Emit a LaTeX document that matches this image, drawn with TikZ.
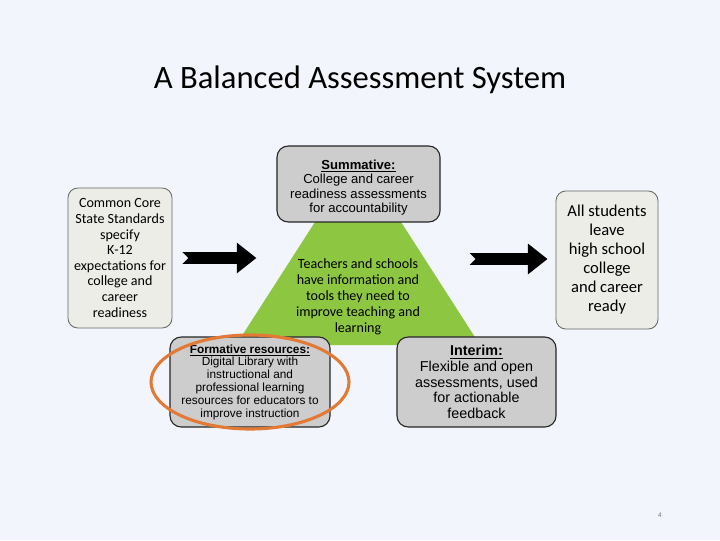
\documentclass[tikz,border=0pt]{standalone}
\usepackage{fontspec}
\setmainfont{Carlito}
\newfontfamily\arialfont{Liberation Sans}
\usetikzlibrary{positioning, calc, arrows.meta}

\definecolor{slidebg}{HTML}{F2F6FC}
\definecolor{pyramidgreen}{HTML}{8DC641}
\definecolor{boxgray}{HTML}{CDCDCD}
\definecolor{paleboxfill}{HTML}{EDEDE8}
\definecolor{ringorange}{HTML}{E27A36}

\begin{document}
\begin{tikzpicture}[x=0.025cm, y=-0.025cm,
    outerbox/.style={rectangle, rounded corners=7pt, draw=black!60, fill=paleboxfill, line width=0.6pt, align=center, inner sep=0pt},
    greybox/.style={rectangle, rounded corners=8pt, draw=black!85, fill=boxgray, line width=0.8pt, align=center, inner sep=0pt},
    bigarrow/.style={line width=8.5pt, {Triangle Cap[reversed]}-{Triangle[length=14pt, width=21pt]}}
]
    % Background
    \fill[slidebg] (0,0) rectangle (720,540);
    \useasboundingbox (0,0) rectangle (720,540);

    % Title
    \node[font=\fontsize{23.2}{27}\selectfont] (title) at (360,80) {A Balanced Assessment System};

    % Pyramid
    \fill[pyramidgreen] (358,155) -- (480,345) -- (236,345) -- cycle;
    \node[align=center, font=\fontsize{10}{11.3}\selectfont] (core) at (358,297)
        {Teachers and schools\\ have information and\\ tools they need to\\ improve teaching and\\ learning};

    % Outer boxes
    \node[outerbox, minimum width=2.6cm, minimum height=3.5cm, font=\fontsize{10}{11.1}\selectfont] (ccss) at (120,258)
        {Common Core\\ State Standards\\ specify\\ K-12\\ expectations for\\ college and\\ career\\ readiness};
    \node[outerbox, minimum width=2.55cm, minimum height=3.45cm, font=\fontsize{11.8}{13.5}\selectfont] (ready) at (607,260)
        {All students\\ leave\\ high school\\ college\\ and career\\ ready};

    % Assessment boxes
    \node[greybox, minimum width=4.075cm, minimum height=1.9cm, font=\arialfont\fontsize{9.3}{10.2}\selectfont] (summ) at (358.5,184)
        {\rule{0pt}{12pt}\underline{\textbf{Summative:}}\\ College and career\\ readiness assessments\\ for accountability};
    \node[greybox, minimum width=4cm, minimum height=2.25cm, font=\arialfont\fontsize{8.4}{9.1}\selectfont] (form) at (250,382)
        {\underline{\textbf{Formative resources:}}\\ Digital Library with\\ instructional and\\ professional learning\\ resources for educators to\\ improve instruction};
    \node[greybox, minimum width=3.975cm, minimum height=2.25cm, font=\arialfont\fontsize{10.2}{11.1}\selectfont] (inter) at (476.5,382)
        {\underline{\textbf{Interim:}}\\ Flexible and open\\ assessments, used\\ for actionable\\ feedback};

    % Arrows
    \coordinate (inTail) at ($(ccss.east)+(10,0)$);
    \coordinate (inTip) at ($(ccss.east)+(84,0)$);
    \coordinate (outTail) at ($(ready.west)+(-86,-1)$);
    \coordinate (outTip) at ($(ready.west)+(-8,-1)$);
    \draw[bigarrow] (inTail) -- (inTip);
    \draw[bigarrow] (outTail) -- (outTip);

    % Highlight
    \draw[ringorange, line width=2.2pt] (form.center) ellipse [x radius=99, y radius=47];

    % Page number
    \node[text=black!55, font=\fontsize{5}{6}\selectfont] (pagenum) at (660,515) {4};
\end{tikzpicture}
\end{document}
